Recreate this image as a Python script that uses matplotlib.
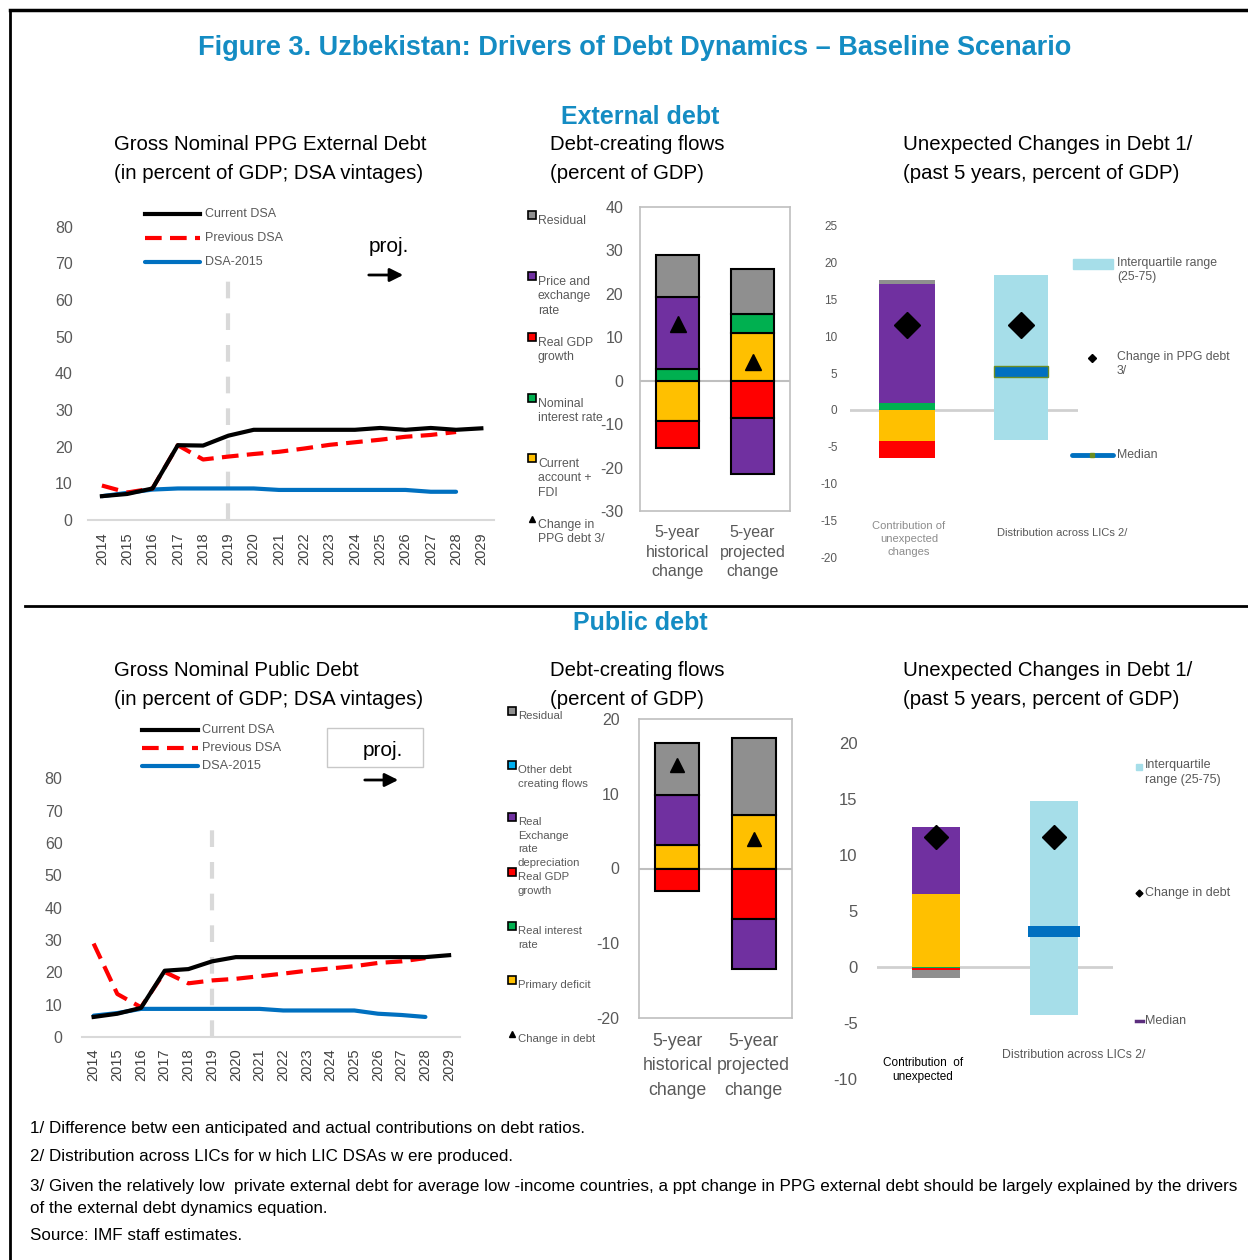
import matplotlib
matplotlib.use("Agg")
import matplotlib.pyplot as plt
import matplotlib.lines as mlines
import matplotlib.patches as mpatches
import numpy as np

plt.rcParams['font.family'] = ['Liberation Sans', 'DejaVu Sans']
plt.rcParams['axes.unicode_minus'] = False

# ---------------- data ----------------
years = list(range(2014, 2030))

# external PPG debt (percent of GDP)
ext_current = [6.5, 7.1, 8.6, 20.4, 20.3, 23.0, 24.6, 24.6, 24.6, 24.6, 24.6, 25.1, 24.6, 25.1, 24.6, 25.0]
ext_previous = [9.4, 7.5, 8.6, 20.4, 16.5, 17.3, 18.0, 18.6, 19.5, 20.5, 21.2, 21.9, 22.7, 23.2, 24.0]
ext_dsa2015 = [6.5, 7.4, 8.3, 8.6, 8.6, 8.6, 8.6, 8.2, 8.2, 8.2, 8.2, 8.2, 8.2, 7.7, 7.7]

# public debt (percent of GDP)
pub_current = [6.2, 7.2, 9.0, 20.5, 21.0, 23.4, 24.7, 24.7, 24.7, 24.7, 24.7, 24.7, 24.7, 24.7, 24.7, 25.3]
pub_previous = [28.9, 13.3, 9.2, 20.1, 16.6, 17.5, 18.0, 18.8, 19.6, 20.5, 21.2, 21.9, 22.9, 23.4, 24.4]
pub_dsa2015 = [6.6, 7.4, 8.7, 8.7, 8.7, 8.7, 8.7, 8.7, 8.2, 8.2, 8.2, 8.2, 7.2, 6.8, 6.2]

flow_periods = ['5-year\nhistorical\nchange', '5-year\nprojected\nchange']

# external debt-creating flows: historical, projected
ext_ca_fdi = [-9.2, 11.1]
ext_nom_int = [2.8, 4.3]
ext_real_gdp = [-6.2, -8.5]
ext_price_er = [16.4, -13.0]
ext_residual = [9.7, 10.4]
ext_change = [13.1, 4.2]

# public debt-creating flows: historical, projected
pub_primary = [3.1, 7.1]
pub_real_int = [-0.1, -0.1]
pub_real_gdp = [-2.9, -6.6]
pub_real_er = [6.75, -6.7]
pub_other = [0.0, 0.0]
pub_residual = [6.95, 10.3]
pub_change = [13.9, 3.9]

# unexpected changes (external): contributions
unx_ext_contrib = [-4.2, 1.0, -2.4, 16.15, 0.55]   # CA+FDI, interest, GDP, price/ER, residual
unx_ext_change = 11.5
unx_ext_iqr = (-4.1, 18.4)
unx_ext_median = (4.5, 5.9)

# unexpected changes (public): contributions
unx_pub_contrib = [6.55, -0.1, -0.15, 5.97, 0.0, -0.75]  # primary, real int, GDP, real ER, other, residual
unx_pub_change = 11.6
unx_pub_iqr = (-4.3, 14.85)
unx_pub_median = (2.67, 3.7)

# ---------------- styles ----------------
W, H = 1248, 1260
BLUE_T = '#148cc3'
GREY_TXT = '#595959'
C_GREY = '#8f8f8f'
C_PURPLE = '#7030a0'
C_RED = '#ff0000'
C_GREEN = '#00b050'
C_YELLOW = '#ffc000'
C_CYAN = '#00b0f0'
C_IQR = '#a6dee9'
C_MED = '#0070c0'

fig = plt.figure(figsize=(W / 100, H / 100), dpi=100)


def fx(x):
    return x / W


def fy(y):
    return 1 - y / H


def add_ax(x0, y0, x1, y1):
    return fig.add_axes([fx(x0), fy(y1), (x1 - x0) / W, (y1 - y0) / H])


def ftext(x, y, s, **kw):
    kw.setdefault('va', 'center')
    return fig.text(fx(x), fy(y), s, **kw)


def fline(xs, ys, **kw):
    fig.add_artist(mlines.Line2D([fx(v) for v in xs], [fy(v) for v in ys],
                                 transform=fig.transFigure, **kw))


def fmarker(x, y, **kw):
    fig.add_artist(mlines.Line2D([fx(x)], [fy(y)], transform=fig.transFigure,
                                 linestyle='none', **kw))


def fig_arrow(x0, x1, y):
    fig.add_artist(mpatches.FancyArrowPatch((fx(x0), fy(y)), (fx(x1), fy(y)),
                                            transform=fig.transFigure, arrowstyle='-|>',
                                            mutation_scale=20, lw=2, color='black'))


def line_panel(ax, cur, prev, old, vline_top, ylabpad, xlabpad):
    x = np.arange(len(years))
    ax.plot(x[:len(old)], old, color=C_MED, lw=3, solid_capstyle='round', zorder=3)
    ax.plot(x[:len(prev)], prev, color=C_RED, lw=3, dashes=(4, 2), zorder=4)
    ax.plot(x, cur, color='black', lw=3, zorder=5)
    ax.plot([5, 5], [0, vline_top], color='#d9d9d9', lw=3, dashes=(4, 3.6), zorder=2)
    ax.set_ylim(0, 90)
    ax.set_yticks(range(0, 81, 10))
    ax.set_xticks(x)
    ax.set_xticklabels([str(y) for y in years], rotation=90, fontsize=10.5, color='#404040')
    ax.tick_params(axis='y', length=0, labelsize=11.5, labelcolor=GREY_TXT, pad=ylabpad)
    ax.tick_params(axis='x', length=0, pad=xlabpad)
    for s in ['top', 'right', 'left']:
        ax.spines[s].set_visible(False)
    ax.spines['bottom'].set_color('#d9d9d9')
    ax.spines['bottom'].set_linewidth(1.5)
    ax.patch.set_alpha(0)


def line_legend(x0, x1, xt, ys, fs):
    fline([x0, x1], [ys[0]] * 2, color='black', lw=3)
    fline([x0, x1], [ys[1]] * 2, color=C_RED, lw=3, dashes=(4, 2))
    fline([x0, x1], [ys[2]] * 2, color=C_MED, lw=3, solid_capstyle='round')
    for y, s in zip(ys, ['Current DSA', 'Previous DSA', 'DSA-2015']):
        ftext(xt, y, s, fontsize=fs, color=GREY_TXT)


def stacked(ax, series, colors, width, edge):
    pos = np.zeros(2)
    neg = np.zeros(2)
    for vals, col in zip(series, colors):
        vals = np.asarray(vals, dtype=float)
        bottoms = np.where(vals >= 0, pos, neg)
        keep = vals != 0
        if keep.any():
            ax.bar(np.arange(2)[keep], vals[keep], width=width, bottom=bottoms[keep],
                   color=col, edgecolor=edge, linewidth=1.5 if edge else 0, zorder=3)
        pos += np.where(vals >= 0, vals, 0)
        neg += np.where(vals < 0, vals, 0)


def flows_panel(ax, series, colors, change, ylim, step, ylabpad, xlabpad, ms):
    stacked(ax, series, colors, 0.58, 'black')
    ax.plot([0, 1], change, linestyle='none', marker='^', color='black', ms=ms, zorder=5)
    ax.axhline(0, color='#bfbfbf', lw=1.5, zorder=2)
    ax.set_xlim(-0.5, 1.5)
    ax.set_ylim(*ylim)
    ax.set_yticks(np.arange(ylim[0], ylim[1] + 1, step))
    ax.set_xticks([0, 1])
    ax.set_xticklabels(flow_periods, fontsize=11.5, color=GREY_TXT, linespacing=1.4)
    ax.tick_params(axis='y', length=0, labelsize=11.5, labelcolor=GREY_TXT, pad=ylabpad)
    ax.tick_params(axis='x', length=0, pad=xlabpad)
    for s in ax.spines.values():
        s.set_color('#bfbfbf')
        s.set_linewidth(1.2)


def side_legend(x, ys, labels, colors, fs, lsp):
    for y, lab, col in zip(ys, labels, colors):
        if col == 'tri':
            fmarker(x, y, marker='^', color='black', ms=5)
        else:
            fmarker(x, y, marker='s', markerfacecolor=col, markeredgecolor='black',
                    markeredgewidth=1.2, ms=6)
        ftext(x + 6, y, lab, fontsize=fs, color=GREY_TXT, va='top', linespacing=lsp)


# ---------------- frame and titles ----------------
fline([10, 10], [10, 1260], color='black', lw=2)
fline([10, 1248], [10, 10], color='black', lw=2.5)
fline([25, 1248], [606, 606], color='black', lw=2)

ftext(635, 48, 'Figure 3. Uzbekistan: Drivers of Debt Dynamics \u2013 Baseline Scenario',
      ha='center', fontsize=19.5, fontweight='bold', color=BLUE_T)
ftext(640, 117, 'External debt', ha='center', fontsize=18, fontweight='bold', color=BLUE_T)
ftext(640, 623, 'Public debt', ha='center', fontsize=18, fontweight='bold', color=BLUE_T)

panel_titles = [
    (114, 159, 'Gross Nominal PPG External Debt\n(in percent of GDP; DSA vintages)'),
    (550, 159, 'Debt-creating flows\n(percent of GDP)'),
    (903, 159, 'Unexpected Changes in Debt 1/\n(past 5 years, percent of GDP)'),
    (114, 685, 'Gross Nominal Public Debt\n(in percent of GDP; DSA vintages)'),
    (550, 685, 'Debt-creating flows\n(percent of GDP)'),
    (903, 685, 'Unexpected Changes in Debt 1/\n(past 5 years, percent of GDP)'),
]
for x, y, s in panel_titles:
    ftext(x, y, s, fontsize=14.7, color='black', linespacing=1.65)

# ---------------- external: PPG debt lines ----------------
ax1 = add_ax(88, 190, 494, 520)
ax1.set_xlim(-0.55, 15.5)
line_panel(ax1, ext_current, ext_previous, ext_dsa2015, 67.5, 11, 9)
line_legend(145, 200, 205, [214, 238, 262], 9)
ftext(389, 247, 'proj.', ha='center', fontsize=15)
fig_arrow(366, 406, 275)

# ---------------- external: debt-creating flows ----------------
ax2 = add_ax(640, 207, 790, 511)
flows_panel(ax2, [ext_ca_fdi, ext_nom_int, ext_real_gdp, ext_price_er, ext_residual],
            [C_YELLOW, C_GREEN, C_RED, C_PURPLE, C_GREY], ext_change,
            (-30, 40), 10, 12, 10, 11)
side_legend(532, [215, 276, 337, 398, 458, 519],
            ['Residual', 'Price and\nexchange\nrate', 'Real GDP\ngrowth',
             'Nominal\ninterest rate', 'Current\naccount +\nFDI', 'Change in\nPPG debt 3/'],
            [C_GREY, C_PURPLE, C_RED, C_GREEN, C_YELLOW, 'tri'], 8.8, 1.25)

# ---------------- external: unexpected changes ----------------
ax3 = add_ax(850, 226, 1078, 557)
cum_pos, cum_neg = 0.0, 0.0
for v, col in zip(unx_ext_contrib, [C_YELLOW, C_GREEN, C_RED, C_PURPLE, C_GREY]):
    b = cum_pos if v >= 0 else cum_neg
    ax3.bar(0, v, bottom=b, width=0.49, color=col, zorder=3)
    if v >= 0:
        cum_pos += v
    else:
        cum_neg += v
ax3.bar(1, unx_ext_iqr[1] - unx_ext_iqr[0], bottom=unx_ext_iqr[0], width=0.47, color=C_IQR, zorder=2)
ax3.bar(1, unx_ext_median[1] - unx_ext_median[0], bottom=unx_ext_median[0], width=0.47,
        color=C_MED, edgecolor='#6b8e23', linewidth=1, zorder=4)
ax3.plot([0, 1], [unx_ext_change] * 2, linestyle='none', marker='D', color='black', ms=13.5, zorder=5)
ax3.axhline(0, color='#d0d0d0', lw=2, zorder=1)
ax3.set_xlim(-0.5, 1.5)
ax3.set_ylim(-20, 25)
ax3.set_yticks(range(-20, 26, 5))
ax3.set_xticks([])
ax3.tick_params(axis='y', length=0, labelsize=8.5, labelcolor=GREY_TXT, pad=9)
for s in ax3.spines.values():
    s.set_visible(False)
ftext(909, 539, 'Contribution of\nunexpected\nchanges', ha='center', fontsize=8, color='#8c8c8c',
      linespacing=1.35)
ftext(1062, 533, 'Distribution across LICs 2/', ha='center', fontsize=8, color=GREY_TXT)
fig.add_artist(mpatches.Rectangle((fx(1073), fy(269)), 40 / W, 10 / H, transform=fig.transFigure,
                                  color=C_IQR))
ftext(1117, 257, 'Interquartile range\n(25-75)', fontsize=8.8, color=GREY_TXT, va='top',
      linespacing=1.25)
fmarker(1092, 358, marker='D', color='black', ms=4)
ftext(1117, 351, 'Change in PPG debt\n3/', fontsize=8.8, color=GREY_TXT, va='top', linespacing=1.25)
fline([1072, 1113], [455, 455], color=C_MED, lw=3.5, solid_capstyle='round')
fmarker(1092, 455, marker='s', color='#6b8e23', ms=3)
ftext(1117, 455, 'Median', fontsize=8.8, color=GREY_TXT)

# ---------------- public: debt lines ----------------
ax4 = add_ax(82, 746, 460, 1037)
ax4.set_xlim(-0.49, 15.46)
line_panel(ax4, pub_current, pub_previous, pub_dsa2015, 66, 14, 8)
line_legend(142, 198, 202, [730, 748, 766], 9.2)
fig.add_artist(mpatches.Rectangle((fx(327), fy(767)), 96 / W, 39 / H, transform=fig.transFigure,
                                  facecolor='white', edgecolor='#c8c8c8', lw=1))
ftext(383, 751, 'proj.', ha='center', fontsize=15)
fig_arrow(362, 401, 780)

# ---------------- public: debt-creating flows ----------------
ax5 = add_ax(639, 719, 792, 1018)
flows_panel(ax5, [pub_primary, pub_real_int, pub_real_gdp, pub_real_er, pub_other, pub_residual],
            [C_YELLOW, C_GREEN, C_RED, C_PURPLE, C_CYAN, C_GREY], pub_change,
            (-20, 20), 10, 14, 11, 10)
ax5.set_xticklabels(flow_periods, fontsize=12.8, color=GREY_TXT, linespacing=1.55)
side_legend(512, [711, 765, 817, 872, 926, 980, 1034],
            ['Residual', 'Other debt\ncreating flows', 'Real\nExchange\nrate\ndepreciation',
             'Real GDP\ngrowth', 'Real interest\nrate', 'Primary deficit', 'Change in debt'],
            [C_GREY, C_CYAN, C_PURPLE, C_RED, C_GREEN, C_YELLOW, 'tri'], 8.2, 1.45)

# ---------------- public: unexpected changes ----------------
ax6 = add_ax(877, 743, 1113, 1079)
cum_pos, cum_neg = 0.0, 0.0
for v, col in zip(unx_pub_contrib, [C_YELLOW, C_GREEN, C_RED, C_PURPLE, C_CYAN, C_GREY]):
    if v == 0:
        continue
    b = cum_pos if v >= 0 else cum_neg
    ax6.bar(0, v, bottom=b, width=0.41, color=col, zorder=3)
    if v >= 0:
        cum_pos += v
    else:
        cum_neg += v
ax6.bar(1, unx_pub_iqr[1] - unx_pub_iqr[0], bottom=unx_pub_iqr[0], width=0.41, color=C_IQR, zorder=2)
ax6.bar(1, unx_pub_median[1] - unx_pub_median[0], bottom=unx_pub_median[0], width=0.44,
        color=C_MED, zorder=4)
ax6.plot([0, 1], [unx_pub_change] * 2, linestyle='none', marker='D', color='black', ms=12.5, zorder=5)
ax6.axhline(0, color='#d0d0d0', lw=2, zorder=1)
ax6.set_xlim(-0.5, 1.5)
ax6.set_ylim(-10, 20)
ax6.set_yticks(range(-10, 21, 5))
ax6.set_xticks([])
ax6.tick_params(axis='y', length=0, labelsize=12, labelcolor=GREY_TXT, pad=14)
for s in ax6.spines.values():
    s.set_visible(False)
ftext(923, 1070, 'Contribution  of\nunexpected', ha='center', fontsize=8.5, color='black',
      linespacing=1.2)
ftext(1074, 1055, 'Distribution across LICs 2/', ha='center', fontsize=8.8, color=GREY_TXT)
fmarker(1139, 767, marker='s', color=C_IQR, ms=5)
ftext(1145, 759, 'Interquartile\nrange (25-75)', fontsize=9, color=GREY_TXT, va='top', linespacing=1.3)
fmarker(1139, 893, marker='D', color='black', ms=3.5)
ftext(1145, 893, 'Change in debt', fontsize=9, color=GREY_TXT)
fline([1136, 1143], [1021, 1021], color='#5c2e7e', lw=2.5)
ftext(1145, 1021, 'Median', fontsize=9, color=GREY_TXT)

# ---------------- footnotes ----------------
notes = [
    (1129, '1/ Difference betw een anticipated and actual contributions on debt ratios.'),
    (1156, '2/ Distribution across LICs for w hich LIC DSAs w ere produced.'),
    (1186, '3/ Given the relatively low  private external debt for average low -income countries, '
           'a ppt change in PPG external debt should be largely explained by the drivers'),
    (1209, 'of the external debt dynamics equation.'),
    (1236, 'Source: IMF staff estimates.'),
]
for y, s in notes:
    ftext(30, y, s, fontsize=12.25, color='black')

fig.savefig('out.png', dpi=100)
